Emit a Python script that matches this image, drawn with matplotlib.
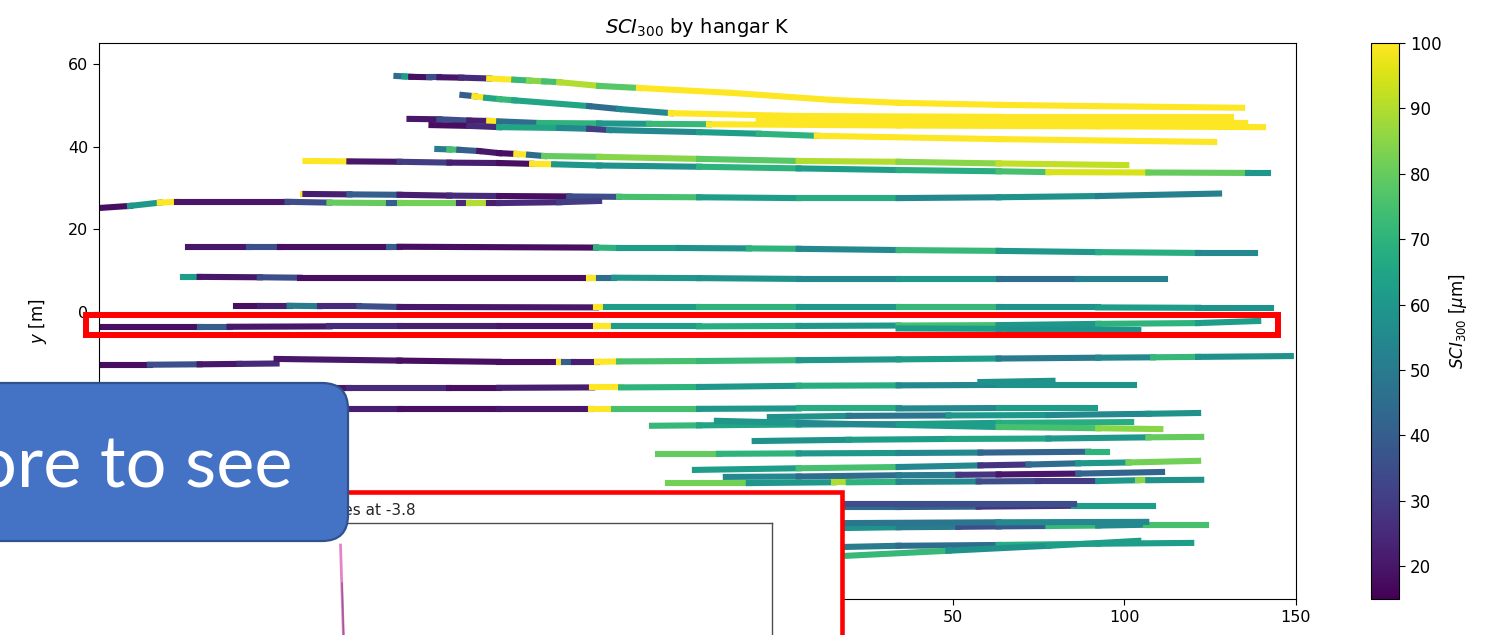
import matplotlib
matplotlib.use("Agg")
import matplotlib.pyplot as plt
import numpy as np
from matplotlib.collections import LineCollection
from matplotlib.patches import Rectangle, FancyBboxPatch
from matplotlib.colors import Normalize

# ---------------- data ----------------
# each track: knot x [m], knot y [m], SCI300 value per segment between knots
track_x = [
    [-111.9, -109.6, -107.6, -102.3, -99.4, -93.0, -84.9, -77.6, -73.3, -68.9, -64.5, -52.9, -41.3, -14.2, 14.8, 34.3, 63.4, 91.6, 134.3],
    [-92.7, -89.2, -85.8, -82.0, -77.6, -55.8, -47.1, -32.0, 5.2, 63.4, 131.1],
    [-108.1, -99.4, -90.7, -84.9, -82.0, -70.3, -52.9, -38.4, -20.9, 34.3, 92.4, 140.4],
    [-6.4, 63.4, 135.2],
    [-101.7, -90.7, -82.0, -64.5, -55.8, -50.0, -23.8, -6.4, 10.5, 63.4, 126.2],
    [-100.0, -96.5, -93.6, -87.8, -82.0, -77.0, -73.3, -68.9, -52.9, -23.8, 5.2, 34.3, 63.4, 100.6],
    [-138.4, -125.6, -111.0, -96.5, -82.0, -72.4, -66.0, -52.9, -23.8, 5.2, 34.3, 63.4, 77.9, 107.0, 136.0, 141.9],
    [-139.2, -138.4, -125.6, -111.0, -96.5, -82.0, -61.6, -47.1, -23.8, 5.2, 34.3, 63.4, 92.4, 127.6],
    [-198.5, -189.5, -180.8, -175.9, -143.6, -131.4, -114.0, -111.0, -93.6, -90.7, -84.9, -82.0, -64.5, -52.9],
    [-172.7, -154.7, -145.9, -114.0, -111.0, -53.8, -47.1, -29.7, -9.3, 5.2, 34.3, 63.4, 92.4, 121.5, 138.1],
    [-174.1, -169.2, -151.7, -140.1, -55.8, -52.9, -48.5, -23.8, 5.2, 34.3, 63.4, 86.6, 111.9],
    [-158.7, -151.7, -143.0, -134.3, -122.7, -111.0, -53.8, -50.9, -23.8, 5.2, 34.3, 63.4, 92.4, 121.5, 142.7],
    [-198.5, -169.2, -160.5, -131.4, -111.0, -82.0, -53.8, -48.5, -23.8, 5.2, 34.3, 63.4, 92.4, 121.5, 139.0],
    [34.3, 63.4, 104.1],
    [-198.5, -183.7, -169.2, -157.6, -146.8],
    [-146.8, -111.0, -82.0, -64.5, -63.1, -60.2, -53.5, -47.1, -23.8, 5.2, 34.3, 63.4, 92.4, 108.4, 121.5, 148.5],
    [-154.7, -125.6, -96.5, -82.0, -54.9, -46.5, -23.8, 5.2, 34.3, 63.4, 102.9],
    [58.1, 79.1],
    [-154.7, -111.0, -82.0, -55.2, -48.5, -23.8, 5.2, 34.3, 63.4, 91.6],
    [-3.2, 19.8, 48.8, 77.9, 107.0, 121.5],
    [-37.5, -23.8, 5.2, 34.3, 63.4, 102.0],
    [-18.6, 5.2, 34.3, 63.4, 92.4, 110.5],
    [-7.6, 19.8, 48.8, 77.9, 107.0, 122.4],
    [-35.8, -18.0, 5.2, 34.3, 58.1, 89.5, 95.1],
    [-25.0, 5.2, 34.3, 58.1, 72.1, 86.6, 101.2, 121.5],
    [-16.0, 5.2, 34.3, 51.7, 63.4, 86.6, 111.0],
    [-32.8, -9.3, 15.4, 19.8, 34.3, 57.6, 75.0, 92.4, 104.1, 107.0, 122.4],
    [-23.8, 17.4, 34.3, 57.6, 85.5, 108.4],
    [17.4, 85.5],
    [-23.8, 17.4, 34.3, 51.7, 63.4, 77.9, 92.4, 106.4, 123.8],
    [17.4, 63.4, 106.4],
    [-23.8, 17.4, 34.3, 63.4, 92.4, 119.5],
    [-9.3, 17.4, 48.8, 77.9, 104.1],
]
track_y = [
    [57.2, 57.1, 57.0, 56.9, 56.9, 56.8, 56.6, 56.3, 56.1, 55.9, 55.7, 54.8, 54.3, 53.1, 51.4, 50.7, 50.2, 49.9, 49.5],
    [52.6, 52.3, 51.9, 51.6, 51.3, 49.9, 49.2, 48.2, 47.5, 47.3, 47.3],
    [46.8, 46.7, 46.4, 46.3, 46.2, 45.8, 45.7, 45.6, 45.5, 45.2, 45.0, 44.8],
    [46.3, 46.1, 45.8],
    [45.3, 45.1, 44.8, 44.6, 44.4, 44.1, 43.6, 43.2, 42.7, 41.9, 41.2],
    [39.5, 39.4, 39.3, 39.0, 38.5, 38.3, 38.1, 37.8, 37.6, 37.1, 36.6, 36.4, 36.0, 35.6],
    [36.6, 36.5, 36.4, 36.2, 36.1, 35.9, 35.8, 35.5, 35.2, 34.8, 34.4, 34.1, 33.9, 33.8, 33.7, 33.7],
    [28.6, 28.6, 28.5, 28.4, 28.2, 28.1, 28.0, 27.9, 27.8, 27.6, 27.6, 27.8, 28.1, 28.7],
    [25.2, 25.7, 26.5, 26.7, 26.7, 26.5, 26.4, 26.4, 26.4, 26.4, 26.4, 26.4, 26.6, 26.9],
    [15.8, 15.8, 15.8, 15.8, 15.8, 15.6, 15.5, 15.5, 15.4, 15.3, 15.0, 14.8, 14.5, 14.3, 14.3],
    [8.5, 8.5, 8.4, 8.3, 8.3, 8.3, 8.3, 8.2, 8.0, 8.0, 8.0, 8.0, 8.0],
    [1.5, 1.5, 1.5, 1.4, 1.4, 1.2, 1.1, 1.1, 1.1, 1.1, 1.1, 1.1, 1.1, 1.0, 1.0],
    [-3.6, -3.6, -3.6, -3.5, -3.5, -3.5, -3.5, -3.5, -3.5, -3.4, -3.3, -3.2, -2.9, -2.7, -2.2],
    [-4.0, -4.1, -4.4],
    [-12.8, -12.8, -12.7, -12.6, -12.5],
    [-11.4, -11.8, -12.1, -12.1, -12.1, -12.1, -12.1, -12.0, -11.9, -11.7, -11.5, -11.3, -11.1, -11.0, -10.9, -10.7],
    [-18.4, -18.4, -18.4, -18.4, -18.3, -18.3, -18.2, -17.9, -17.8, -17.7, -17.7],
    [-17.0, -16.7],
    [-23.5, -23.5, -23.5, -23.5, -23.5, -23.5, -23.4, -23.4, -23.3, -23.3],
    [-25.5, -25.2, -25.1, -25.0, -24.7, -24.5],
    [-27.6, -27.5, -27.3, -27.2, -26.9, -26.7],
    [-26.4, -26.9, -27.4, -27.9, -28.2, -28.4],
    [-31.3, -31.0, -30.8, -30.7, -30.4, -30.3],
    [-34.4, -34.4, -34.3, -34.2, -34.1, -33.9, -33.9],
    [-38.3, -37.9, -37.6, -37.2, -37.0, -36.7, -36.5, -36.1],
    [-40.0, -39.9, -39.6, -39.5, -39.4, -39.2, -38.8],
    [-41.5, -41.5, -41.3, -41.3, -41.2, -41.1, -41.0, -41.0, -40.8, -40.8, -40.7],
    [-47.4, -47.3, -47.3, -47.2, -47.0, -47.0],
    [-46.6, -46.6],
    [-52.6, -52.4, -52.2, -52.1, -52.0, -51.9, -51.8, -51.6, -51.6],
    [-51.2, -51.0, -50.9],
    [-57.2, -57.0, -56.7, -56.5, -56.2, -56.0],
    [-59.6, -59.2, -57.9, -56.7, -55.5],
]
track_v = [
    [45, 62, 18, 35, 20, 25, 100, 72, 85, 75, 90, 78, 100, 100, 100, 100, 100, 100],
    [40, 100, 65, 72, 65, 45, 55, 100, 100, 100],
    [20, 35, 22, 100, 45, 70, 60, 72, 100, 100, 100],
    [100, 100],
    [18, 25, 65, 55, 30, 55, 62, 70, 100, 100],
    [50, 75, 40, 20, 18, 100, 45, 80, 85, 78, 90, 85, 92],
    [100, 20, 30, 22, 18, 100, 60, 58, 70, 62, 68, 75, 95, 80, 60],
    [100, 22, 40, 22, 25, 18, 35, 75, 62, 68, 55, 58, 52],
    [18, 60, 100, 20, 35, 80, 40, 82, 25, 90, 22, 25, 30],
    [20, 35, 18, 40, 18, 70, 62, 58, 70, 55, 72, 60, 68, 55],
    [62, 20, 35, 18, 100, 45, 60, 58, 55, 60, 45, 52],
    [18, 22, 50, 25, 35, 20, 100, 62, 70, 60, 72, 58, 62, 58],
    [18, 40, 20, 25, 22, 20, 100, 62, 68, 60, 75, 60, 70, 62],
    [62, 58],
    [18, 35, 20, 25],
    [20, 18, 18, 100, 40, 22, 100, 75, 72, 60, 62, 50, 55, 72, 58],
    [20, 25, 18, 22, 100, 70, 60, 68, 55, 58],
    [58],
    [22, 18, 20, 100, 75, 60, 68, 55, 62],
    [58, 48, 60, 55, 58],
    [72, 65, 60, 62, 68],
    [60, 55, 62, 75, 85],
    [58, 62, 65, 60, 80],
    [80, 70, 60, 55, 42, 70],
    [62, 75, 55, 28, 45, 60, 82],
    [55, 45, 50, 28, 20, 42],
    [82, 60, 90, 70, 55, 35, 30, 60, 85, 58],
    [55, 45, 42, 28, 62],
    [35],
    [55, 58, 50, 35, 38, 72, 55, 75],
    [48, 55],
    [58, 50, 45, 68, 62],
    [65, 72, 58, 62],
]
cbar_ticks = [20, 30, 40, 50, 60, 70, 80, 90, 100]
sci_min, sci_max = 15, 100
x_limits = (-198.5, 150)
y_limits = (-69.6, 65.2)

# inset (profile plot, mostly hidden)
inset_title = "Profiles at -3.8"
pink_x = [53.2, 53.6]
pink_y = [88.8, 30.0]
mauve_x = [53.36, 53.62]
mauve_y = [69.5, 30.0]

# ---------------- figure ----------------
W, H = 1486, 635
fig = plt.figure(figsize=(W / 100, H / 100), dpi=100)


def fx(px):
    return px / W


def fy(py):
    return 1 - py / H


ax = fig.add_axes([fx(99), fy(599), fx(1296) - fx(99), fy(43) - fy(599)])
norm = Normalize(vmin=sci_min, vmax=sci_max)
cmap = plt.get_cmap("viridis")
lc_last = None
for xs, ys, vs in zip(track_x, track_y, track_v):
    pts = np.column_stack([xs, ys])
    segs = np.stack([pts[:-1], pts[1:]], axis=1)
    lc = LineCollection(segs, cmap=cmap, norm=norm, linewidths=4.4,
                        capstyle="projecting", joinstyle="miter")
    lc.set_array(np.asarray(vs, dtype=float))
    ax.add_collection(lc)
    lc_last = lc
ax.set_xlim(*x_limits)
ax.set_ylim(*y_limits)
ax.tick_params(labelsize=11.5, length=4.2)
ax.set_ylabel("$y$ [m]", fontsize=12)
ax.set_title("$SCI_{300}$ by hangar K", fontsize=14, pad=7)

cax = fig.add_axes([fx(1371), fy(599), fx(1399) - fx(1371), fy(43) - fy(599)])
cb = fig.colorbar(lc_last, cax=cax, ticks=cbar_ticks)
cb.ax.tick_params(labelsize=12, length=4.2)
cb.set_label(r"$SCI_{300}$ [$\mu$m]", fontsize=12)

# ---------------- slide overlays ----------------
ov = fig.add_axes([0, 0, 1, 1], zorder=5)
ov.set_xlim(0, W)
ov.set_ylim(H, 0)
ov.axis("off")
ov.patch.set_alpha(0)
ov.add_patch(Rectangle((86, 315), 1278 - 86, 20, fill=False,
                       edgecolor="#ff0000", linewidth=4.3))
ov.add_patch(Rectangle((-30, 492), 842 + 30, 300, facecolor="white",
                       edgecolor="#ff0000", linewidth=3.3))
ov.text(416, 515, inset_title, ha="right", va="baseline", fontsize=11,
        color="#262626")

iax = fig.add_axes([fx(-150), fy(720), fx(772) - fx(-150), fy(523) - fy(720)], zorder=6)
iax.plot(pink_x, pink_y, color="#e377c2", lw=2.0, alpha=0.9)
iax.plot(mauve_x, mauve_y, color="#9c5a98", lw=1.1)
iax.set_xlim(0, 100)
iax.set_ylim(0, 100)
iax.set_xticks([])
iax.set_yticks([])
for s in iax.spines.values():
    s.set_color("#4d4d4d")
    s.set_linewidth(1.0)

ov2 = fig.add_axes([0, 0, 1, 1], zorder=7)
ov2.set_xlim(0, W)
ov2.set_ylim(H, 0)
ov2.axis("off")
ov2.patch.set_alpha(0)
ov2.add_patch(FancyBboxPatch((-60, 383), 408, 158,
                             boxstyle="round,pad=0,rounding_size=26",
                             facecolor="#4472C4", edgecolor="#2F528F", linewidth=1.6))
ov2.text(293, 487, "ore to see", ha="right", va="baseline", fontsize=52,
         family="Lato", color="white")

fig.savefig("out.png", dpi=100)
